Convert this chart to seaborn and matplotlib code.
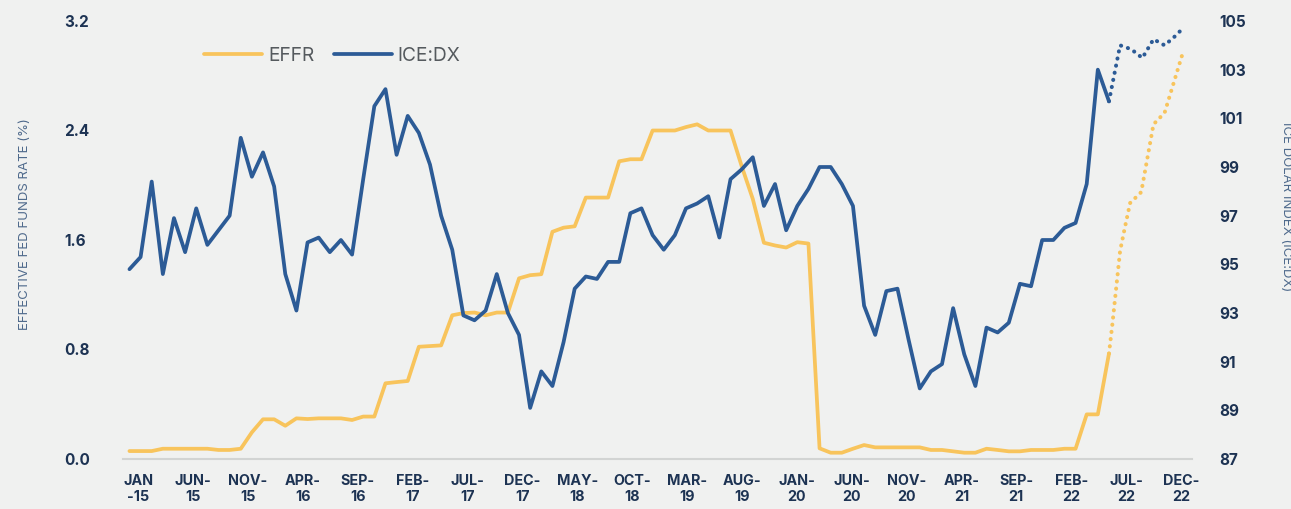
import numpy as np
import pandas as pd
import matplotlib
matplotlib.use("Agg")
import matplotlib.pyplot as plt
import seaborn as sns

# ---------------- data ----------------
# monthly index 0 = Jan-2015 ... 88 = May-2022 (actuals)
dxy_actual = [94.8, 95.3, 98.4, 94.6, 96.9, 95.5, 97.3, 95.8, 96.4, 97.0, 100.2, 98.6,
              99.6, 98.2, 94.6, 93.1, 95.9, 96.1, 95.5, 96.0, 95.4, 98.5, 101.5, 102.2,
              99.5, 101.1, 100.4, 99.1, 97.0, 95.6, 92.9, 92.7, 93.1, 94.6, 93.0, 92.1,
              89.1, 90.6, 90.0, 91.8, 94.0, 94.5, 94.4, 95.1, 95.1, 97.1, 97.3, 96.2,
              95.6, 96.2, 97.3, 97.5, 97.8, 96.1, 98.5, 98.9, 99.4, 97.4, 98.3, 96.4,
              97.4, 98.1, 99.0, 99.0, 98.3, 97.4, 93.3, 92.1, 93.9, 94.0, 91.9, 89.9,
              90.6, 90.9, 93.2, 91.3, 90.0, 92.4, 92.2, 92.6, 94.2, 94.1, 96.0, 96.0,
              96.5, 96.7, 98.3, 103.0, 101.7]
effr_actual = [0.058, 0.058, 0.058, 0.075, 0.075, 0.075, 0.075, 0.075, 0.066, 0.066, 0.075, 0.195,
               0.29, 0.29, 0.243, 0.297, 0.292, 0.297, 0.297, 0.297, 0.285, 0.31, 0.31, 0.553,
               0.562, 0.57, 0.82, 0.825, 0.83, 1.05, 1.066, 1.07, 1.05, 1.07, 1.07, 1.32,
               1.343, 1.35, 1.66, 1.69, 1.70, 1.91, 1.91, 1.91, 2.175, 2.19, 2.19, 2.40,
               2.40, 2.40, 2.425, 2.445, 2.40, 2.40, 2.40, 2.14, 1.90, 1.58, 1.56, 1.545,
               1.584, 1.574, 0.078, 0.046, 0.046, 0.075, 0.102, 0.085, 0.085, 0.085, 0.085, 0.085,
               0.066, 0.066, 0.056, 0.046, 0.046, 0.075, 0.066, 0.056, 0.056, 0.066, 0.066, 0.066,
               0.075, 0.075, 0.326, 0.326, 0.77]

# forecast (dotted) series, month index positions (fractional)
dxy_fc_x = [88, 89, 90, 91, 92, 93, 94, 94.55]
dxy_fc = [101.7, 104.0, 103.84, 103.48, 104.25, 104.0, 104.4, 104.66]
effr_fc_x = [88, 88.3, 88.65, 89.0, 89.4, 89.9, 90.9, 92.0, 93.0, 94.7]
effr_fc = [0.77, 0.98, 1.25, 1.52, 1.68, 1.87, 1.95, 2.445, 2.53, 2.985]

tick_labels = ["JAN\n-15", "JUN-\n15", "NOV-\n15", "APR-\n16", "SEP-\n16", "FEB-\n17",
               "JUL-\n17", "DEC-\n17", "MAY-\n18", "OCT-\n18", "MAR-\n19", "AUG-\n19",
               "JAN-\n20", "JUN-\n20", "NOV-\n20", "APR-\n21", "SEP-\n21", "FEB-\n22",
               "JUL-\n22", "DEC-\n22"]
left_ticks = [0.0, 0.8, 1.6, 2.4, 3.2]
right_ticks = [87, 89, 91, 93, 95, 97, 99, 101, 103, 105]

# ---------------- style ----------------
BG = "#f0f1f0"
BLUE = "#2c5b96"
YELLOW = "#f8c45c"
TXT = "#1d3353"

sns.set_theme(style="white")
plt.rcParams["font.family"] = ["Inter", "DejaVu Sans"]

df_a = pd.DataFrame({"m": np.arange(len(dxy_actual)), "dxy": dxy_actual, "effr": effr_actual})
df_dfc = pd.DataFrame({"m": dxy_fc_x, "v": dxy_fc})
df_efc = pd.DataFrame({"m": effr_fc_x, "v": effr_fc})

fig = plt.figure(figsize=(12.91, 5.09), dpi=100, facecolor=BG)
ax = fig.add_axes([123 / 1291, 1 - 459 / 509, (1192 - 123) / 1291, (459 - 21) / 509])
ax.set_facecolor(BG)
ax2 = ax.twinx()
ax2.set_facecolor("none")

DOT = (0, (0.05, 1.75))
sns.lineplot(data=df_a, x="m", y="effr", ax=ax, color=YELLOW, lw=2.7, label="EFFR",
             solid_capstyle="round", legend=False)
sns.lineplot(data=df_efc, x="m", y="v", ax=ax, color=YELLOW, lw=2.9,
             linestyle=DOT, dash_capstyle="round", legend=False)
sns.lineplot(data=df_a, x="m", y="dxy", ax=ax2, color=BLUE, lw=2.7, label="ICE:DX",
             solid_capstyle="round", legend=False)
sns.lineplot(data=df_dfc, x="m", y="v", ax=ax2, color=BLUE, lw=2.9,
             linestyle=DOT, dash_capstyle="round", legend=False)

ax.set_xlim(-0.58, 95.46)
ax.set_ylim(0, 3.2)
ax2.set_ylim(87, 105)

ax.set_xticks(np.linspace(0.79, 94.47, len(tick_labels)))
ax.set_xticklabels(tick_labels, fontsize=10.3, fontweight="bold", color=TXT, linespacing=1.15)
ax.set_yticks(left_ticks)
ax.set_yticklabels([f"{t:.1f}" for t in left_ticks], fontsize=11, fontweight="bold", color=TXT)
ax2.set_yticks(right_ticks)
ax2.set_yticklabels([str(t) for t in right_ticks], fontsize=11, fontweight="bold", color=TXT)

ax.tick_params(axis="x", length=0, pad=11)
ax.tick_params(axis="y", length=0, pad=42.5)
for lbl in ax.get_yticklabels():
    lbl.set_horizontalalignment("left")
ax2.tick_params(axis="y", length=0, pad=19.5)

ax.set_xlabel("")
ax.set_ylabel("")
ax2.set_ylabel("")
for a in (ax, ax2):
    for s in ("top", "left", "right", "bottom"):
        a.spines[s].set_visible(False)
    a.grid(False)
ax.spines["bottom"].set_visible(True)
ax.spines["bottom"].set_color("#d2d4d3")
ax.spines["bottom"].set_linewidth(1.5)

fig.text(25 / 1291, 1 - 224 / 509, "EFFECTIVE FED FUNDS RATE (%)", rotation=90,
         ha="center", va="center", fontsize=9.5, color="#4f6a8c")
fig.text(1286 / 1291, 1 - 207 / 509, "ICE DOLAR INDEX (ICE:DX)", rotation=-90,
         ha="center", va="center", fontsize=9.5, color="#4f6a8c")

h1 = ax.get_lines()[0]
h2 = ax2.get_lines()[0]
leg = ax2.legend([h1, h2], ["EFFR", "ICE:DX"], loc="center left",
                 bbox_to_anchor=((204 - 123) / 1069, 1 - (56 - 21) / 438),
                 ncol=2, frameon=False, fontsize=13.8, handlelength=3.05,
                 handletextpad=0.3, columnspacing=1.0, borderpad=0, borderaxespad=0)
for t in leg.get_texts():
    t.set_color("#555a5e")

fig.savefig("out.png", dpi=100, facecolor=BG)
